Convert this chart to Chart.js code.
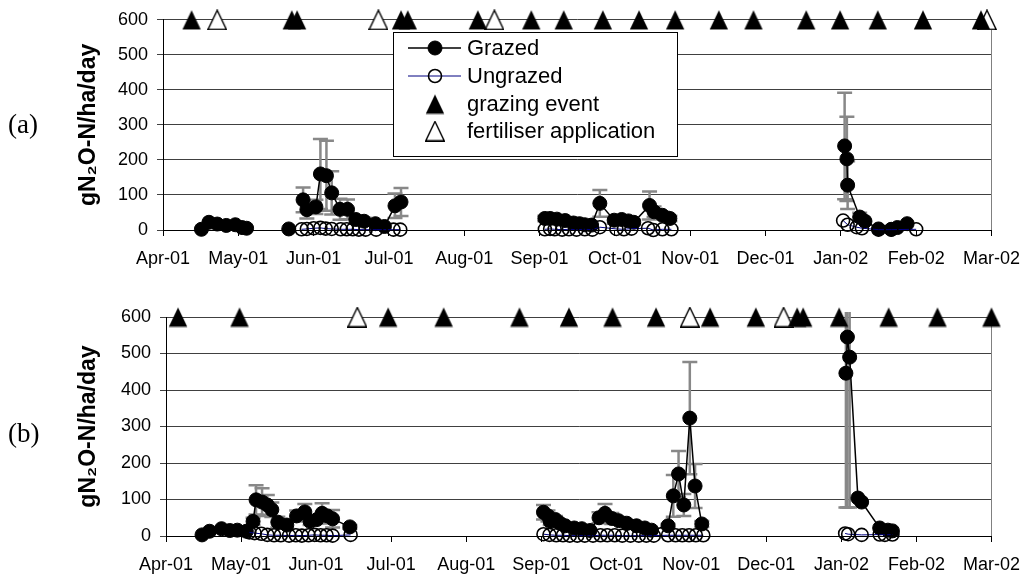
<!DOCTYPE html>
<html><head><meta charset="utf-8">
<script src="https://cdn.jsdelivr.net/npm/chart.js@4/dist/chart.umd.min.js"></script>
<style>
html,body{margin:0;padding:0;background:#fff;width:1032px;height:575px;overflow:hidden;position:relative}
.box{position:absolute;left:0;width:1032px;height:285px}
.plabel{position:absolute;left:8px;font-family:'Liberation Serif','Times New Roman',serif;font-size:27px;line-height:30px;color:#000}
</style></head><body>
<div class="box" style="top:0"><canvas id="ca"></canvas></div>
<div class="box" style="top:290px"><canvas id="cb"></canvas></div>
<div class="plabel" style="top:109px">(a)</div>
<div class="plabel" style="top:418px">(b)</div>
<script>
// x values are months since Apr-01 (0 = Apr-01 ... 11 = Mar-02); null y = gap in series
const monthLabels = ['Apr-01','May-01','Jun-01','Jul-01','Aug-01','Sep-01','Oct-01','Nov-01','Dec-01','Jan-02','Feb-02','Mar-02'];
const yTicks = [0,100,200,300,400,500,600];
const eventLevel = 600;

// ---- panel (a)
const aGrazedX = [0.51,0.61,0.72,0.84,0.96,1.05,1.11,1.4,
  1.67,1.75,1.86,1.91,2.03,2.09,2.17,2.24,2.35,2.45,2.56,2.67,2.82,2.94,3.08,3.16,4.0,
  5.07,5.14,5.23,5.34,5.45,5.53,5.60,5.69,5.80,5.99,6.09,6.18,6.25,6.46,6.52,6.63,6.73,8.0,
  9.05,9.08,9.09,9.25,9.32,9.50,9.67,9.75,9.88];
const aGrazedY = [2,22,17,13,15,7,5,null,
  3,null,86,58,66,160,155,106,59,59,30,25,18,10,69,80,null,
  33,33,31,27,20,18,15,14,76,28,30,26,22,70,52,42,33,null,
  240,203,128,37,25,3,2,7,18];
const aGrazedErr = [null,null,null,null,null,null,null,null,
  null,null,35,25,20,100,100,62,30,28,12,10,5,null,35,40,null,
  8,8,8,8,null,null,null,null,38,10,10,10,8,40,15,10,8,null,
  152,120,68,12,null,null,null,null,null];
const aUngrazedX = [1.84,1.91,2.00,2.09,2.16,2.24,2.36,2.44,2.52,2.60,2.69,2.83,3.06,3.15,4.0,
  5.07,5.14,5.20,5.30,5.39,5.49,5.60,5.70,5.80,6.02,6.12,6.22,6.44,6.51,6.63,6.75,8.0,
  9.03,9.09,9.21,9.28,9.50,9.67,10.0];
const aUngrazedY = [2,3,5,6,4,3,2,2,2,1,1,1,1,1,null,
  2,3,2,1,2,1,2,1,8,3,2,4,5,0,2,2,null,
  27,15,8,5,1,1,2];
const aGrazingX = [0.38,1.71,1.78,3.16,3.25,4.18,4.89,5.32,5.84,6.32,6.80,7.38,7.84,8.54,8.99,9.49,10.09,10.86];
const aFertX = [0.72,2.86,4.40,10.94];

// ---- panel (b)
const bGrazedX = [0.48,0.58,0.74,0.85,0.95,1.07,
  1.16,1.20,1.28,1.35,1.41,1.49,1.61,1.74,1.85,1.92,2.01,2.08,2.15,2.22,2.45,4.0,
  5.03,5.09,5.12,5.19,5.25,5.32,5.44,5.54,5.65,5.77,5.85,5.94,6.03,6.14,6.27,6.38,6.47,
  6.69,6.76,6.83,6.90,6.98,7.05,7.14,8.0,
  9.06,9.08,9.11,9.22,9.27,9.51,9.62,9.68];
const bGrazedY = [3,13,20,15,16,13,
  40,99,93,85,72,38,30,55,66,40,45,62,55,47,25,null,
  65,55,40,45,35,28,22,20,15,50,62,48,42,35,28,22,16,
  28,110,170,85,323,137,33,null,
  446,545,490,104,93,22,16,14];
const bGrazedErr = [null,null,null,null,null,null,
  10,40,38,27,20,15,10,15,22,10,10,28,15,24,5,null,
  20,15,10,10,8,null,null,null,null,15,26,15,10,8,null,null,null,
  5,57,63,30,154,60,8,null,
  368,467,412,null,null,null,null,null];
const bUngrazedX = [1.11,1.18,1.27,1.35,1.44,1.53,1.64,1.73,1.81,1.90,1.98,2.06,2.14,2.22,2.46,4.0,
  5.03,5.11,5.20,5.29,5.38,5.48,5.58,5.69,5.79,5.88,5.98,6.08,6.19,6.30,6.40,6.50,
  6.69,6.79,6.88,6.97,7.06,7.16,8.0,
  9.05,9.09,9.27,9.51,9.58,9.68];
const bUngrazedY = [10,8,6,3,2,2,1,2,1,2,3,2,2,1,3,null,
  5,3,2,2,1,1,1,1,2,2,2,1,1,1,1,1,
  2,2,2,2,2,2,null,
  7,5,3,4,3,4];
const bGrazingX = [0.16,0.98,2.96,3.70,4.71,5.37,5.95,6.53,7.25,7.86,8.41,8.49,8.97,9.63,10.28,11.0];
const bFertX = [2.55,6.98,8.23];

const FONT = "'Liberation Sans', Arial, Helvetica, sans-serif";

function triImg(filled){
  const c=document.createElement('canvas'); c.width=20; c.height=21;
  const g=c.getContext('2d');
  g.beginPath(); g.moveTo(10,1); g.lineTo(19.2,20.2); g.lineTo(0.8,20.2); g.closePath();
  if(filled){ g.fillStyle='#000'; g.fill(); }
  else { g.fillStyle='#fff'; g.fill(); g.lineWidth=1.4; g.strokeStyle='#000'; g.stroke(); }
  return c;
}
const TRI_FILLED = triImg(true), TRI_OPEN = triImg(false);

function pts(xs, ys){ return xs.map((x,i)=>({x:x, y:ys[i]})); }

function errPlugin(errs){
  return {id:'errorBars', beforeDatasetsDraw(chart){
    const ds=chart.data.datasets[0], xs=chart.scales.x, ys=chart.scales.y, ctx=chart.ctx, a=chart.chartArea;
    ctx.save(); ctx.beginPath(); ctx.rect(a.left, a.top-5, a.right-a.left, a.bottom-a.top+5); ctx.clip();
    ctx.strokeStyle='#888888'; ctx.lineWidth=2.5;
    ds.data.forEach((p,i)=>{
      const e=errs[i]; if(p.y==null||e==null) return;
      const x=xs.getPixelForValue(p.x), y1=ys.getPixelForValue(p.y+e), y0=ys.getPixelForValue(p.y-e);
      ctx.beginPath(); ctx.moveTo(x,y1); ctx.lineTo(x,y0);
      ctx.moveTo(x-7.5,y1); ctx.lineTo(x+7.5,y1); ctx.moveTo(x-7.5,y0); ctx.lineTo(x+7.5,y0); ctx.stroke();
    });
    ctx.restore();
  }};
}
const rightBorder = {id:'rightBorder', beforeDatasetsDraw(chart){
  const a=chart.chartArea, ctx=chart.ctx; ctx.save(); ctx.strokeStyle='#808080'; ctx.lineWidth=1;
  ctx.beginPath(); ctx.moveTo(Math.round(a.right)+0.5,a.top); ctx.lineTo(Math.round(a.right)+0.5,a.bottom); ctx.stroke(); ctx.restore();
}};
const boxLegend = {id:'boxLegend', afterDatasetsDraw(chart){
  const ctx=chart.ctx; const L={x:393,y:32,w:284,h:124}; const rows=[48,76,104,131]; const cx=435;
  ctx.save();
  ctx.fillStyle='#fff'; ctx.fillRect(L.x,L.y,L.w,L.h);
  ctx.strokeStyle='#000'; ctx.lineWidth=1; ctx.strokeRect(L.x+0.5,L.y+0.5,L.w,L.h);
  chart.data.datasets.forEach((ds,i)=>{
    const cy=rows[i];
    if(ds.showLine!==false){ ctx.strokeStyle=ds.borderColor; ctx.lineWidth=ds.borderWidth; ctx.beginPath(); ctx.moveTo(408,cy); ctx.lineTo(461,cy); ctx.stroke(); }
    if(ds.pointStyle==='circle'){
      ctx.beginPath(); ctx.arc(cx,cy,ds.pointRadius,0,Math.PI*2);
      ctx.fillStyle=ds.pointBackgroundColor; ctx.fill();
      ctx.lineWidth=ds.pointBorderWidth; ctx.strokeStyle=ds.pointBorderColor; ctx.stroke();
    } else { const img=ds.pointStyle; ctx.drawImage(img,cx-img.width/2,cy-img.height/2); }
    ctx.fillStyle='#000'; ctx.font='22px '+FONT; ctx.textBaseline='middle'; ctx.textAlign='left';
    ctx.fillText(ds.label,467,cy+1);
  });
  ctx.restore();
}};

function makeChart(id, d, geo, withLegend){
  const plugins=[errPlugin(d.err), rightBorder]; if(withLegend) plugins.push(boxLegend);
  return new Chart(document.getElementById(id), {
    type:'line',
    data:{datasets:[
      {label:'Grazed', data:pts(d.gx,d.gy), borderColor:'#000', borderWidth:1.5, pointStyle:'circle', pointRadius:7,
       pointBackgroundColor:'#000', pointBorderColor:'#000', pointBorderWidth:1, spanGaps:false, clip:false, order:2},
      {label:'Ungrazed', data:pts(d.ux,d.uy), borderColor:'#000080', borderWidth:1, pointStyle:'circle', pointRadius:6.5,
       pointBackgroundColor:'rgba(255,255,255,0)', pointBorderColor:'#000', pointBorderWidth:1.6, spanGaps:false, clip:false, order:1},
      {label:'grazing event', data:d.ev.map(x=>({x:x,y:eventLevel})), showLine:false, pointStyle:TRI_FILLED, pointRadius:10, clip:false, order:0},
      {label:'fertiliser application', data:d.fe.map(x=>({x:x,y:eventLevel})), showLine:false, pointStyle:TRI_OPEN, pointRadius:10, clip:false, order:0}
    ]},
    options:{
      responsive:true, maintainAspectRatio:false, animation:false, events:[],
      layout:{padding:{left:0,right:34,top:geo.top,bottom:0}},
      plugins:{legend:{display:false}, tooltip:{enabled:false}},
      scales:{
        x:{type:'linear', min:0, max:11,
          afterFit(s){ s.height=geo.xh; },
          afterBuildTicks(s){ s.ticks=monthLabels.map((l,i)=>({value:i})); },
          ticks:{autoSkip:false, maxRotation:0, minRotation:0, color:'#000', font:{family:FONT,size:18}, padding:12,
                 callback:(v)=>monthLabels[Math.round(v)]},
          grid:{drawOnChartArea:false, drawTicks:true, tickLength:6, color:'#000'},
          border:{color:'#000', width:1}},
        y:{type:'linear', min:0, max:600,
          afterFit(s){ s.width=geo.yw; },
          afterBuildTicks(s){ s.ticks=yTicks.map(v=>({value:v})); },
          ticks:{color:'#000', font:{family:FONT,size:18}, padding:9},
          grid:{color:'#404040', lineWidth:1, tickLength:6, drawTicks:true},
          border:{color:'#000', width:1},
          title:{display:true, text:'gN\u2082O-N/ha/day', color:'#000', font:{family:FONT,size:23,weight:'bold'}, padding:{top:75,bottom:0}}}
      }
    },
    plugins:plugins
  });
}

makeChart('ca', {gx:aGrazedX, gy:aGrazedY, err:aGrazedErr, ux:aUngrazedX, uy:aUngrazedY, ev:aGrazingX, fe:aFertX},
  {top:17, xh:55, yw:163}, true);
makeChart('cb', {gx:bGrazedX, gy:bGrazedY, err:bGrazedErr, ux:bUngrazedX, uy:bUngrazedY, ev:bGrazingX, fe:bFertX},
  {top:27, xh:39, yw:166}, false);
</script>
</body></html>
